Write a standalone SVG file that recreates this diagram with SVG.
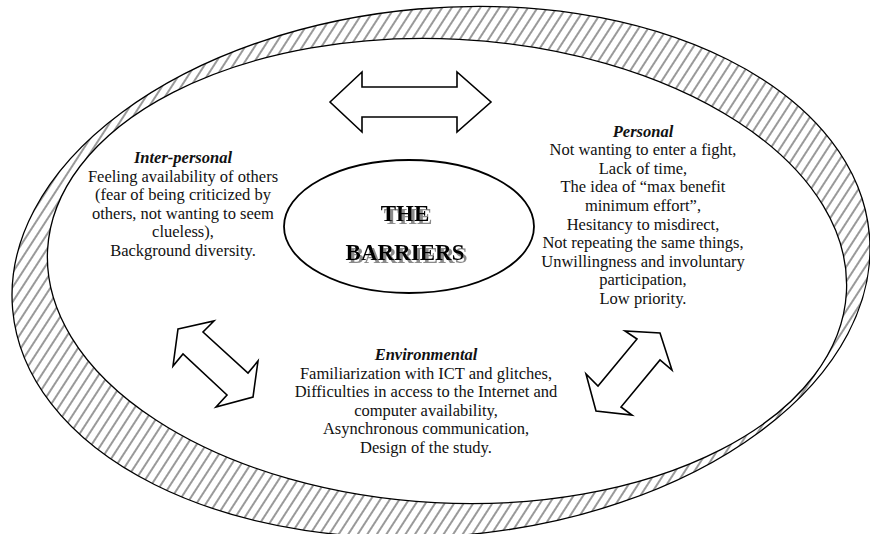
<svg xmlns="http://www.w3.org/2000/svg" width="870" height="534" viewBox="0 0 870 534">
  <style>
    .txt { font-family: "Liberation Serif", "Times New Roman", serif; font-size: 16.5px; fill: #111; text-anchor: middle; }
    .head { font-weight: bold; font-style: italic; }
    .title { font-family: "Liberation Serif", "Times New Roman", serif; font-size: 23px; font-weight: bold; text-anchor: middle; fill: #000; }
    .arrow { fill: #fff; stroke: #000; stroke-width: 1.6; stroke-linejoin: miter; }
  </style>
  <defs>
    <!-- diagonal hatching for the outer ring -->
    <pattern id="hatch" patternUnits="userSpaceOnUse" width="8" height="10" patternTransform="rotate(38)">
      <line x1="4" y1="-1" x2="4" y2="11" stroke="#000" stroke-width="0.8"/>
    </pattern>
    <!-- grey drop shadow for the title lettering -->
    <filter id="shadow" x="-10%" y="-20%" width="130%" height="160%">
      <feOffset in="SourceAlpha" dx="3" dy="3" result="off"/>
      <feFlood flood-color="#8a8a8a"/>
      <feComposite in2="off" operator="in" result="sh"/>
      <feMerge>
        <feMergeNode in="sh"/>
        <feMergeNode in="SourceGraphic"/>
      </feMerge>
    </filter>
  </defs>

  <rect width="870" height="534" fill="#fff"/>

  <!-- hatched ring -->
  <g id="ring">
    <ellipse cx="441" cy="272" rx="430" ry="264" transform="rotate(-5 441 272)" fill="url(#hatch)" stroke="#000" stroke-width="1.3"/>
    <ellipse cx="447" cy="271" rx="400" ry="232" transform="rotate(3 447 271)" fill="#fff" stroke="#000" stroke-width="1.3"/>
  </g>

  <!-- central node -->
  <g id="barriers">
    <ellipse cx="409" cy="226.5" rx="125" ry="66.5" fill="#fff" stroke="#000" stroke-width="1.8"/>
    <g filter="url(#shadow)">
      <text class="title" x="405" y="221">THE</text>
      <text class="title" x="405" y="260">BARRIERS</text>
    </g>
  </g>

  <g id="inter-personal">
    <text class="txt head" x="183" y="163">Inter-personal</text>
    <text class="txt" x="183" y="181.6">Feeling availability of others</text>
    <text class="txt" x="183" y="200.2">(fear of being criticized by</text>
    <text class="txt" x="183" y="218.8">others, not wanting to seem</text>
    <text class="txt" x="183" y="237.4">clueless),</text>
    <text class="txt" x="183" y="256">Background diversity.</text>
  </g>

  <g id="personal">
    <text class="txt head" x="643" y="136.5">Personal</text>
    <text class="txt" x="643" y="155.1">Not wanting to enter a fight,</text>
    <text class="txt" x="643" y="173.7">Lack of time,</text>
    <text class="txt" x="643" y="192.3">The idea of “max benefit</text>
    <text class="txt" x="643" y="210.9">minimum effort”,</text>
    <text class="txt" x="643" y="229.5">Hesitancy to misdirect,</text>
    <text class="txt" x="643" y="248.1">Not repeating the same things,</text>
    <text class="txt" x="643" y="266.7">Unwillingness and involuntary</text>
    <text class="txt" x="643" y="285.3">participation,</text>
    <text class="txt" x="643" y="303.9">Low priority.</text>
  </g>

  <g id="environmental">
    <text class="txt head" x="426" y="360">Environmental</text>
    <text class="txt" x="426" y="378.6">Familiarization with ICT and glitches,</text>
    <text class="txt" x="426" y="397.2">Difficulties in access to the Internet and</text>
    <text class="txt" x="426" y="415.8">computer availability,</text>
    <text class="txt" x="426" y="434.4">Asynchronous communication,</text>
    <text class="txt" x="426" y="453">Design of the study.</text>
  </g>

  <!-- double-headed block arrows between the barrier groups -->
  <g id="connectors">
    <polygon class="arrow" points="330,102 362,72 362,87 457,87 457,72 491,102 457,132 457,117 362,117 362,132"/>
    <polygon class="arrow" points="178,329 214,321 203,332 248,373 258,361 253,397 216,407 227,395 183,354 173,366"/>
    <polygon class="arrow" points="660,333 672,370 660,360 621,407 632,415 596,411 586,374 598,386 637,339 625,331"/>
  </g>
</svg>
